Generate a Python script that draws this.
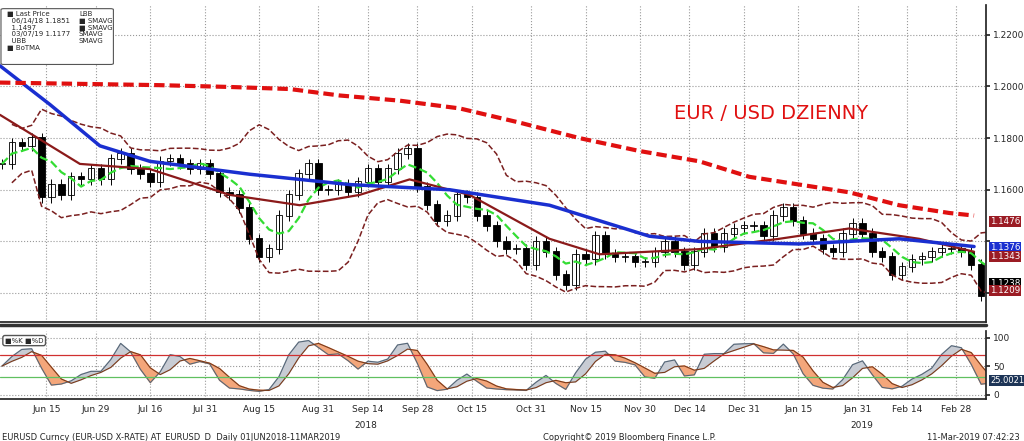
import numpy as np, pandas as pd, matplotlib
matplotlib.use("Agg")
import matplotlib.pyplot as plt, seaborn as sns
from matplotlib.patches import FancyBboxPatch

sns.set_theme(style="white")
plt.rcParams['font.family'] = ['DejaVu Sans']

# closes every 2 business days from 2018-06-04
closes = [1.170,1.178,1.177,1.180,1.157,1.162,1.158,1.165,1.164,1.168,
          1.164,1.172,1.174,1.168,1.166,1.163,1.171,1.172,1.170,1.168,1.170,
          1.166,1.159,1.158,1.153,1.141,1.134,1.137,1.150,1.158,1.166,1.170,1.160,
          1.160,1.162,1.159,1.163,1.168,1.163,1.168,1.174,1.176,1.161,
          1.154,1.148,1.150,1.158,1.157,1.150,1.146,1.140,1.137,1.137,1.131,
          1.140,1.136,1.127,1.123,1.135,1.133,1.142,1.135,1.134,1.134,1.132,
          1.132,1.136,1.140,1.136,1.131,1.136,1.143,1.138,1.143,1.145,1.146,
          1.146,1.142,1.150,1.153,1.148,1.143,1.141,1.137,1.136,1.143,1.147,
          1.143,1.136,1.134,1.127,1.130,1.133,1.134,1.136,1.137,1.137,
          1.136,1.131,1.119,1.124]
sma200_x = [0,80,160,230,290,340,400,460,520,580,640,700,750,800,850,900,950,975]
sma200_y = [1.2015,1.2010,1.2005,1.1998,1.1990,1.1965,1.1945,1.1915,1.1860,1.1800,1.1750,1.1710,1.1650,1.1620,1.1590,1.1540,1.1510,1.1500]
smab_x = [0,50,100,150,250,350,450,550,650,700,800,900,975]
smab_y = [1.2080,1.1930,1.1770,1.1710,1.1660,1.1620,1.1600,1.1540,1.1420,1.1400,1.1390,1.1410,1.1380]
botma_x = [0,80,150,230,300,360,410,470,550,600,700,780,850,920,975]
botma_y = [1.1890,1.1700,1.1680,1.1580,1.1540,1.1580,1.1640,1.1580,1.1410,1.1350,1.1370,1.1410,1.1450,1.1410,1.1360]
tick_dates = ["2018-06-15","2018-06-29","2018-07-16","2018-07-31","2018-08-15","2018-08-31","2018-09-14",
              "2018-09-28","2018-10-15","2018-10-31","2018-11-15","2018-11-30","2018-12-14","2018-12-31",
              "2019-01-15","2019-01-31","2019-02-14","2019-02-28"]
tick_labels = ["Jun 15","Jun 29","Jul 16","Jul 31","Aug 15","Aug 31","Sep 14","Sep 28","Oct 15","Oct 31",
               "Nov 15","Nov 30","Dec 14","Dec 31","Jan 15","Jan 31","Feb 14","Feb 28"]

bdays = pd.bdate_range("2018-06-04", "2019-03-11")
c = np.array(closes); n = len(c)
idx = np.arange(n) * 2
o = np.r_[c[0], c[:-1]]
px2i = lambda x: (np.array(x) - 2) / 4.95
s = pd.Series(c)
green = s.rolling(5, min_periods=1).mean()
bbm = s.rolling(10, min_periods=2).mean(); bbs = s.rolling(10, min_periods=2).std()
lo = (s - 0.002).rolling(8, min_periods=1).min(); hi = (s + 0.002).rolling(8, min_periods=1).max()
K = ((s - lo) / (hi - lo) * 100).rolling(2, min_periods=1).mean()
D = K.rolling(3, min_periods=1).mean()

fig = plt.figure(figsize=(10.24, 4.41), dpi=100)
ax = fig.add_axes([0.0, 0.270, 0.963, 0.719])
ax2 = fig.add_axes([0.0, 0.095, 0.963, 0.155])
for a in (ax, ax2):
    a.yaxis.tick_right()
    for sp in ("left", "top"):
        a.spines[sp].set_visible(False)
    a.grid(True, ls=":", color="#999999", lw=0.8)
    a.set_xlim(-0.4, 199)
    a.tick_params(axis="y", labelsize=6.5, length=3, direction="out", pad=2)

for i in range(n):
    up = c[i] >= o[i]
    h = max(c[i], o[i]) + 0.002; l = min(c[i], o[i]) - 0.002
    ax.vlines(idx[i], l, h, color="black", lw=0.7)
    ax.bar(idx[i], abs(c[i]-o[i]) + 0.0003, bottom=min(c[i], o[i]), width=1.3,
           color="white" if up else "black", edgecolor="black", lw=0.6)
ax.plot(idx, bbm + 2*bbs, color="#7a1f1f", ls="--", lw=1.1)
ax.plot(idx, bbm - 2*bbs, color="#7a1f1f", ls="--", lw=1.1)
ax.plot(idx, green, color="#33dd33", ls="--", lw=1.6)
ax.plot(px2i(botma_x), botma_y, color="#8b1a1a", lw=1.6)
ax.plot(px2i(smab_x), smab_y, color="#1a2fd0", lw=2.5)
ax.plot(px2i(sma200_x), sma200_y, color="#e01010", ls=(0, (2.5, 1.2)), lw=3)
ax.set_ylim(1.1088, 1.2316)
ax.set_yticks([1.12, 1.14, 1.16, 1.18, 1.20, 1.22])
ax.set_yticklabels(["", "", "1.1600", "1.1800", "1.2000", "1.2200"])
ax.set_xticks([bdays.get_loc(pd.Timestamp(d)) for d in tick_dates]); ax.set_xticklabels([])
ax.text(0.683, 0.64, "EUR / USD DZIENNY", transform=ax.transAxes, color="#e01010", fontsize=14)
for val, col in [(1.1476, "#9b1c24"), (1.1376, "#1a2fd0"), (1.1343, "#9b1c24"), (1.1238, "black"), (1.1209, "#9b1c24")]:
    ax.text(1.004, val, f"{val:.4f}", transform=ax.get_yaxis_transform(), color="white", fontsize=6.3,
            va="center", bbox=dict(boxstyle="square,pad=0.12", fc=col, ec="none"))
ax.add_patch(FancyBboxPatch((0.004, 0.815), 0.108, 0.17, transform=ax.transAxes, boxstyle="round,pad=0.003",
                            fc="white", ec="#555555", lw=0.8, zorder=5))
leg = ["■ Last Price", "  06/14/18 1.1851", "  1.1497", "  03/07/19 1.1177", "  UBB", "■ BoTMA"]
ax.text(0.007, 0.98, "\n".join(leg), transform=ax.transAxes, fontsize=5, va="top", linespacing=1.15, zorder=6)
ax.text(0.080, 0.98, "LBB\n■ SMAVG\n■ SMAVG\nSMAVG\nSMAVG", transform=ax.transAxes, fontsize=5, va="top",
        linespacing=1.15, zorder=6)

ax2.plot(idx, K, color="#556677", lw=0.8)
ax2.plot(idx, D, color="#7a3a1a", lw=0.8)
ax2.fill_between(idx, K, D, where=K >= D, color="#c8ccd4", interpolate=True)
ax2.fill_between(idx, K, D, where=K < D, color="#f4a67a", interpolate=True)
ax2.axhline(70, color="#d03030", lw=0.9); ax2.axhline(30, color="#60c060", lw=0.9)
ax2.set_ylim(-8, 112); ax2.set_yticks([0, 50, 100])
ax2.text(1.004, 25, "25.0021", transform=ax2.get_yaxis_transform(), color="white", fontsize=6, va="center",
         bbox=dict(boxstyle="square,pad=0.12", fc="#1d3557", ec="none"))
ax2.text(0.005, 0.9, "■%K ■%D", transform=ax2.transAxes, fontsize=5, va="top",
         bbox=dict(fc="white", ec="#555555", boxstyle="round,pad=0.3"))
ax2.set_xticks([bdays.get_loc(pd.Timestamp(d)) for d in tick_dates])
ax2.set_xticklabels(tick_labels, fontsize=6.5)
ax2.tick_params(axis="x", length=3, pad=1)
fig.text(0.357, 0.030, "2018", fontsize=6.5, ha="center")
fig.text(0.842, 0.030, "2019", fontsize=6.5, ha="center")
fig.text(0.002, 0.003, "EURUSD Curncy (EUR-USD X-RATE) AT_EURUSD_D  Daily 01JUN2018-11MAR2019", fontsize=6)
fig.text(0.53, 0.003, "Copyright© 2019 Bloomberg Finance L.P.", fontsize=6)
fig.text(0.996, 0.003, "11-Mar-2019 07:42:23", fontsize=6, ha="right")
fig.add_artist(plt.Line2D([0, 0.963], [0.262, 0.262], color="#333333", lw=2.5))
fig.savefig("out.png", dpi=100, facecolor="white")
